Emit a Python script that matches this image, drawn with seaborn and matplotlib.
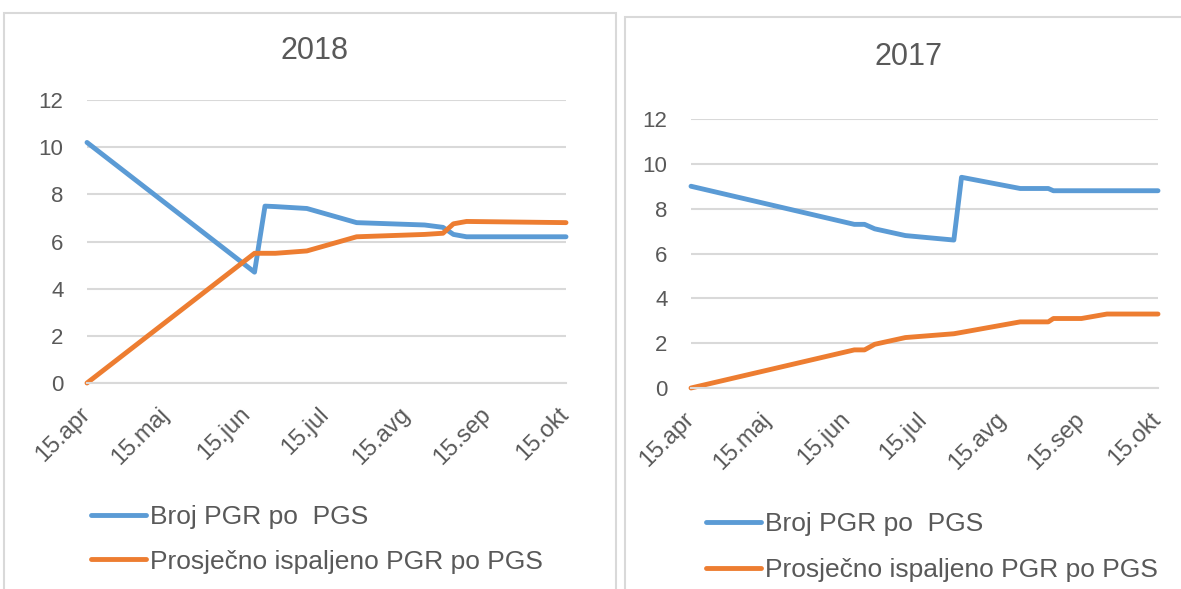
import numpy as np
import pandas as pd
import matplotlib
matplotlib.use('Agg')
import matplotlib.pyplot as plt
import seaborn as sns
from matplotlib.patches import Rectangle
from matplotlib.transforms import ScaledTranslation

series_names = ['Broj PGR po  PGS', 'Prosječno ispaljeno PGR po PGS']
tick_labels = ['15.apr', '15.maj', '15.jun', '15.jul', '15.avg', '15.sep', '15.okt']
tick_months = [4, 5, 6, 7, 8, 9, 10]

dates_2018 = ['2018-04-15', '2018-06-18', '2018-06-22', '2018-06-26', '2018-07-08', '2018-07-27',
              '2018-08-22', '2018-08-29', '2018-09-02', '2018-09-07', '2018-10-15']
broj_2018 = [10.2, 4.7, 7.5, 7.48, 7.4, 6.8, 6.7, 6.6, 6.3, 6.2, 6.2]
ispaljeno_2018 = [0, 5.5, 5.5, 5.5, 5.6, 6.2, 6.3, 6.35, 6.75, 6.85, 6.8]

dates_2017 = ['2017-04-15', '2017-06-18', '2017-06-22', '2017-06-26', '2017-07-08', '2017-07-27',
              '2017-07-30', '2017-08-22', '2017-09-02', '2017-09-04', '2017-09-15', '2017-09-25',
              '2017-10-15']
broj_2017 = [9.0, 7.3, 7.3, 7.1, 6.8, 6.6, 9.4, 8.9, 8.9, 8.8, 8.8, 8.8, 8.8]
ispaljeno_2017 = [0, 1.7, 1.7, 1.95, 2.25, 2.42, 2.48, 2.95, 2.95, 3.1, 3.1, 3.3, 3.3]

BLUE = '#5B9BD5'
ORANGE = '#ED7D31'
GRID = '#D9D9D9'
TEXT = '#595959'

W, H = 1181, 589


def fx(px):
    return px / W


def fy(py):
    return 1 - py / H


def draw_panel(fig, rect, year, dates, broj, ispaljeno, title_xy, legend_xy, spacing):
    ax = fig.add_axes(rect)
    n = len(dates)
    df = pd.DataFrame({
        'datum': pd.to_datetime(dates * 2),
        'vrijednost': broj + ispaljeno,
        'serija': [series_names[0]] * n + [series_names[1]] * n,
    })
    sns.lineplot(data=df, x='datum', y='vrijednost', hue='serija', hue_order=series_names,
                 palette=[BLUE, ORANGE], lw=3.5, estimator=None, sort=False, ax=ax,
                 solid_joinstyle='round', solid_capstyle='round', clip_on=False)

    ticks = [pd.Timestamp(year, m, 15) for m in tick_months]
    ax.set_xlim(ticks[0], ticks[-1])
    ax.set_ylim(0, 12)
    ax.set_yticks(range(0, 13, 2))
    ax.set_xticks(ticks)
    ax.set_xticklabels(tick_labels, rotation=45, ha='right', va='center',
                       rotation_mode='anchor')
    # labels sit a little right of the tick, like in Excel
    shift = ScaledTranslation(4 / 72, 0, fig.dpi_scale_trans)
    for lab in ax.get_xticklabels():
        lab.set_transform(lab.get_transform() + shift)
    ax.grid(axis='y', color=GRID, lw=1.5)
    ax.set_axisbelow(True)
    for s in ['top', 'right', 'left']:
        ax.spines[s].set_visible(False)
    ax.spines['bottom'].set_color(GRID)
    ax.spines['bottom'].set_linewidth(1.5)
    ax.tick_params(axis='x', colors=GRID, length=5, width=1.5, labelcolor=TEXT,
                   labelsize=17, pad=15)
    ax.tick_params(axis='y', length=0, labelcolor=TEXT, labelsize=16, pad=17)
    ax.set_xlabel('')
    ax.set_ylabel('')

    handles, labels = ax.get_legend_handles_labels()
    ax.legend(handles, labels, loc='upper left', bbox_to_anchor=legend_xy,
              bbox_transform=fig.transFigure, frameon=False, fontsize=19,
              handlelength=2.1, handletextpad=0.15, labelspacing=spacing,
              borderpad=0, borderaxespad=0, labelcolor=TEXT)

    fig.text(fx(title_xy[0]), fy(title_xy[1]), str(year), ha='center', va='center',
             fontsize=22, color=TEXT)
    return ax


sns.set_theme(style='white')
plt.rcParams['font.family'] = ['Liberation Sans', 'DejaVu Sans']

fig = plt.figure(figsize=(W / 100, H / 100), dpi=100)

fig.patches.append(Rectangle((fx(4), fy(600)), fx(612), fy(13) - fy(600), fill=False,
                             edgecolor=GRID, lw=1.5, transform=fig.transFigure, figure=fig))
fig.patches.append(Rectangle((fx(625), fy(600)), fx(600), fy(17) - fy(600), fill=False,
                             edgecolor=GRID, lw=1.5, transform=fig.transFigure, figure=fig))

draw_panel(fig, [fx(87), fy(383), fx(566 - 87), fy(100) - fy(383)], 2018,
           dates_2018, broj_2018, ispaljeno_2018, (314, 51), (fx(91), fy(505)), 0.78)
draw_panel(fig, [fx(691), fy(388), fx(1158 - 691), fy(119) - fy(388)], 2017,
           dates_2017, broj_2017, ispaljeno_2017, (909, 57), (fx(706), fy(512)), 0.85)

fig.savefig('out.png', dpi=100, facecolor='white')
